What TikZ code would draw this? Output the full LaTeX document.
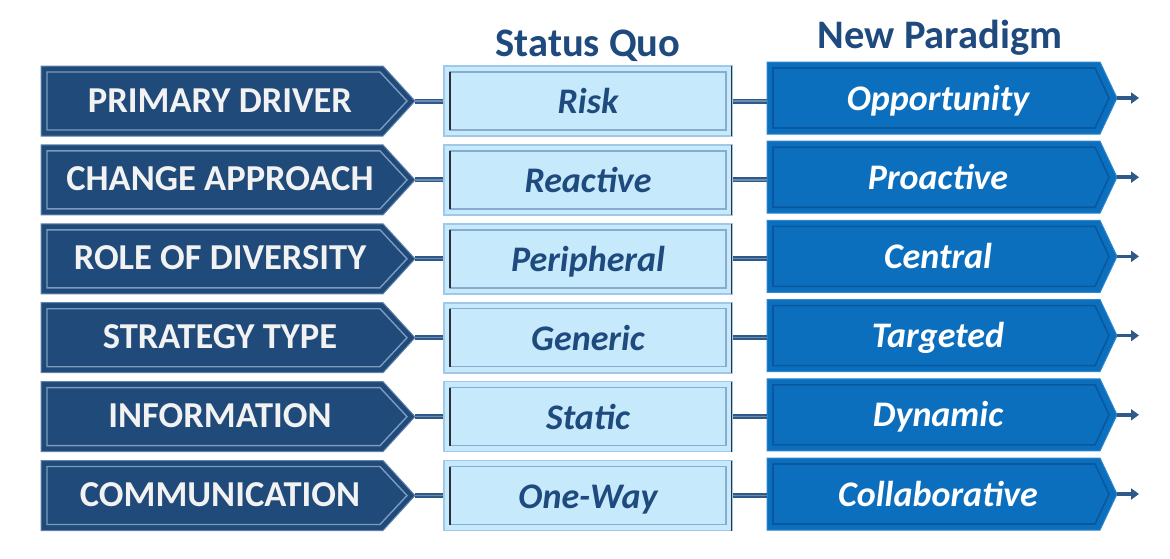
\documentclass[tikz,border=0pt]{standalone}
\usepackage{fontspec}
\setmainfont{Carlito}
\usetikzlibrary{arrows.meta}
\definecolor{navy}{RGB}{31,74,122}
\definecolor{navyline}{RGB}{125,155,190}
\definecolor{paleblue}{RGB}{198,233,251}
\definecolor{paleedge}{RGB}{160,200,232}
\definecolor{paleinner}{RGB}{135,172,205}
\definecolor{darkedge}{RGB}{40,48,58}
\definecolor{midblue}{RGB}{11,111,190}
\definecolor{midblueedge}{RGB}{8,88,158}
\definecolor{midbluelight}{RGB}{70,150,215}
\definecolor{linkblue}{RGB}{46,89,136}
\definecolor{headblue}{RGB}{31,74,125}
\definecolor{offwhite}{RGB}{242,242,242}
\tikzset{
  leftfill/.style={fill=navy, draw=navyline!70!navy, line width=1pt},
  leftline/.style={draw=navyline, line width=1.4pt},
  lefttext/.style={text=offwhite, font=\fontsize{36.5}{42}\selectfont\bfseries, inner sep=0pt, anchor=base},
  midbox/.style={fill=paleblue, draw=paleedge, line width=1.6pt, minimum width=288pt, minimum height=70pt, inner sep=0pt},
  midtext/.style={text=headblue, font=\fontsize{36}{42}\selectfont\bfseries\itshape, inner sep=0pt, anchor=base},
  midinner/.style={draw=paleinner, line width=1.4pt},
  darkrule/.style={draw=darkedge, line width=1.6pt},
  rightfill/.style={fill=midblue, draw=midbluelight!60!midblue, line width=1pt},
  rightline/.style={draw=midblueedge, line width=1.6pt},
  righttext/.style={text=white, font=\fontsize{36}{42}\selectfont\bfseries\itshape, inner sep=0pt, anchor=base},
  link/.style={draw=linkblue, line width=5pt},
  linkshine/.style={draw=linkblue!70!white, line width=1.2pt},
  outarrow/.style={draw=linkblue, line width=3.5pt, -{Triangle[length=8pt,width=11pt]}},
  heading/.style={text=headblue, font=\fontsize{40.5}{46}\selectfont\bfseries, inner sep=0pt, anchor=base},
}
\begin{document}
\begin{tikzpicture}[x=1pt,y=-1pt]
\useasboundingbox (0,0) rectangle (1170,558);
\fill[white] (0,0) rectangle (1170,558);

% column headings
\node[heading] (hsq) at (588,56) {Status Quo};
\node[heading] (hnp) at (940,48.5) {New Paradigm};

\foreach \lab/\sq/\np [count=\i from 0] in {
  PRIMARY DRIVER/Risk/Opportunity,
  CHANGE APPROACH/Reactive/Proactive,
  ROLE OF DIVERSITY/Peripheral/Central,
  STRATEGY TYPE/Generic/Targeted,
  INFORMATION/Static/Dynamic,
  COMMUNICATION/One-Way/Collaborative}{
  \pgfmathsetmacro\ya{66+78.9*\i}
  \pgfmathsetmacro\yb{\ya+70}
  \pgfmathsetmacro\yc{\ya+35}
  \pgfmathsetmacro\ra{62+79.2*\i}
  \pgfmathsetmacro\rb{\ra+72}
  \pgfmathsetmacro\rc{\ra+36}
  % left chevron label
  \path[leftfill] (41,\ya) -- (383,\ya) -- (415,\yc) -- (383,\yb) -- (41,\yb) -- cycle;
  \path[leftline] (47,\ya+6) -- (380,\ya+6) -- (407,\yc) -- (380,\yb-6) -- (47,\yb-6) -- cycle;
  \coordinate (ltip\i) at (415,\yc);
  \node[lefttext] (lab\i) at (220,\yc+11) {\lab};
  % status quo box
  \node[midbox] (sq\i) at (588,\yc) {};
  \path[midinner] (450,\ya+6) rectangle (726,\yb-6);
  \path[darkrule] (450,\ya+6) -- (450,\yb-6);
  \path[darkrule] (731.5,\ya) -- (731.5,\yb);
  \node[midtext] (sqt\i) at (588,\yc+12.5) {\sq};
  % new paradigm chevron
  \path[rightfill] (767,\ra) -- (1100,\ra) -- (1117,\rc) -- (1100,\rb) -- (767,\rb) -- cycle;
  \path[rightline] (773,\ra+6) -- (1095,\ra+6) -- (1109,\rc) -- (1095,\rb-6) -- (773,\rb-6) -- cycle;
  \coordinate (rin\i) at (767,\yc);
  \coordinate (rtip\i) at (1117,\rc);
  \coordinate (rend\i) at (1139,\rc);
  \node[righttext] (np\i) at (938,\rc+12) {\np};
  % connectors
  \path[link] (ltip\i) -- (sq\i.west);
  \path[linkshine] (ltip\i) -- (sq\i.west);
  \path[link] (sq\i.east) -- (rin\i);
  \path[linkshine] (sq\i.east) -- (rin\i);
  \path[outarrow] (rtip\i) -- (rend\i);
}
\end{tikzpicture}
\end{document}
